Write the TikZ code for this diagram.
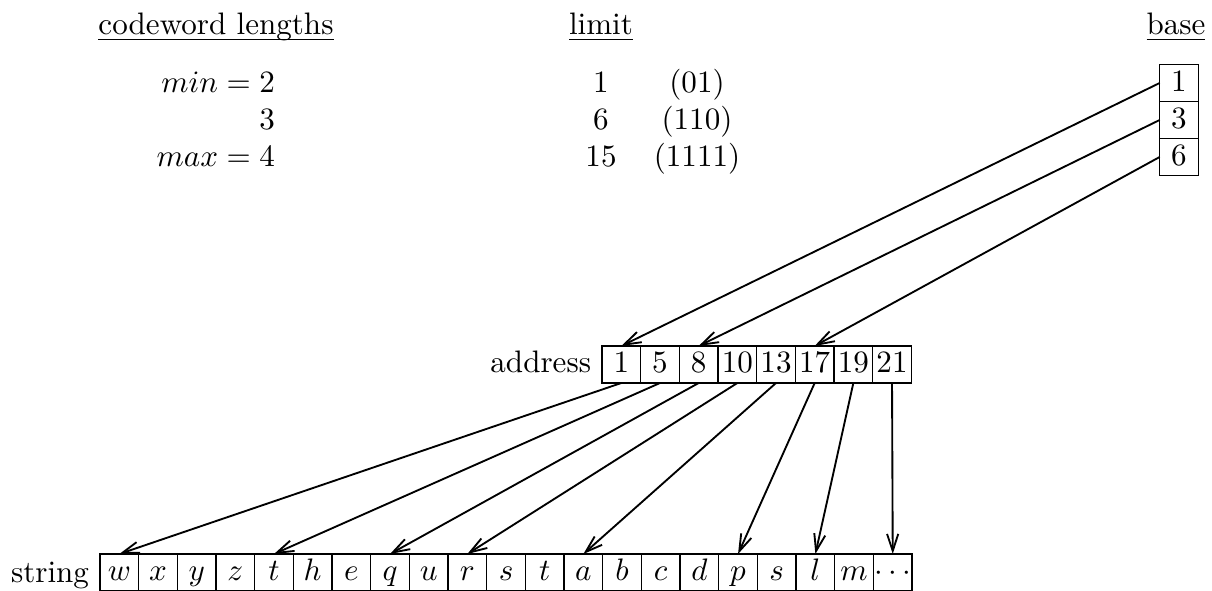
\documentclass[tikz,border=0pt]{standalone}
\usetikzlibrary{arrows.meta}
\begin{document}
\begin{tikzpicture}[x=0.32186pt,y=-0.32186pt,
  cell/.style={draw, line width=0.45pt, inner sep=0pt, outer sep=0pt,
    minimum width=12.446pt, minimum height=11.91pt,
    text height=8.6pt, text depth=3.3pt, anchor=center},
  lbl/.style={inner sep=0pt, outer sep=0pt, anchor=base},
  ptr/.style={line width=0.6pt, -{Straight Barb[length=5.5pt,width=3.6pt]}}]
\useasboundingbox (0,0) rectangle (1212,591);

% headers
\node[lbl] (hcw) at (216,35) {\underline{\smash{codeword lengths}}};
\node[lbl] (hlim) at (601,35) {\underline{\smash{limit}}};
\node[lbl] (hbase) at (1176,35) {\underline{\smash{base}}};

% codeword lengths
\node[lbl, anchor=base east] (cmin) at (275,92.5) {$min=2$};
\node[lbl, anchor=base east] (cmid) at (275,129.5) {$3$};
\node[lbl, anchor=base east] (cmax) at (275,166.5) {$max=4$};

% limit
\node[lbl] (l1) at (601,92.5) {1};
\node[lbl] (l2) at (601,129.5) {6};
\node[lbl] (l3) at (601,166.5) {15};
\node[lbl] (p1) at (697,92.5) {(01)};
\node[lbl] (p2) at (697,129.5) {(110)};
\node[lbl] (p3) at (697,166.5) {(1111)};

% base
\node[cell] (b1) at (1179,83) {1};
\node[cell] (b2) at (1179,120) {3};
\node[cell] (b3) at (1179,157) {6};

% address
\node[lbl, anchor=base east] (addr) at (591,373) {address};
\foreach \t [count=\i] in {1,5,8,10,13,17,19,21}
  \node[cell] (a\i) at ({602+38.67*(\i-0.5)},364.5) {\t};

% string
\node[lbl, anchor=base east] (str) at (89,582.5) {string};
\foreach \t [count=\i] in {w,x,y,z,t,h,e,q,u,r,s,t,a,b,c,d,p,s,l,m,\cdots}
  \node[cell] (s\i) at ({100+38.67*(\i-0.5)},572.5) {$\t$};

% pointers base -> address
\draw[ptr] (b1.west) -- (a1.north);
\draw[ptr] (b2.west) -- (a3.north);
\draw[ptr] (b3.west) -- (a6.north);

% pointers address -> string
\draw[ptr] (a1.south) -- (s1.north);
\draw[ptr] (a2.south) -- (s5.north);
\draw[ptr] (a3.south) -- (s8.north);
\draw[ptr] (a4.south) -- (s10.north);
\draw[ptr] (a5.south) -- (s13.north);
\draw[ptr] (a6.south) -- (s17.north);
\draw[ptr] (a7.south) -- (s19.north);
\draw[ptr] (a8.south) -- (s21.north);
\end{tikzpicture}
\end{document}
